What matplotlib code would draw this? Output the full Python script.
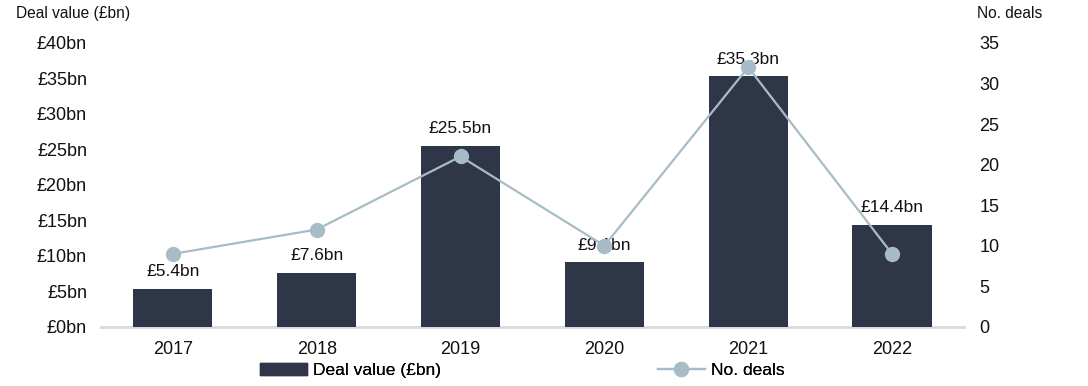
import matplotlib
matplotlib.use("Agg")
import matplotlib.pyplot as plt
from matplotlib.patches import Patch
from matplotlib.lines import Line2D

plt.rcParams["font.family"] = ["Liberation Sans", "DejaVu Sans"]

# --------------------- Data ---------------------
years = ["2017", "2018", "2019", "2020", "2021", "2022"]
deal_value = [5.4, 7.6, 25.5, 9.1, 35.3, 14.4]   # £bn
num_deals = [9, 12, 21, 10, 32, 9]

BAR_COLOR = "#2E3648"
LINE_COLOR = "#A7BCC6"
TEXT_COLOR = "#111111"
FS_TICK = 13
FS_LABEL = 12.5
FS_TITLE = 11.2

fig = plt.figure(figsize=(10.88, 3.86), dpi=100)
ax = fig.add_axes([0.0928, 0.153, 0.7932, 0.736])
ax2 = ax.twinx()

x = list(range(len(years)))
ax.bar(x, deal_value, width=0.55, color=BAR_COLOR, zorder=2)
for xi, v in zip(x, deal_value):
    ax.annotate(f"£{v}bn", (xi, v), xytext=(0, 7), textcoords="offset points",
                ha="center", va="bottom", fontsize=FS_LABEL, color=TEXT_COLOR)

ax2.plot(x, num_deals, color=LINE_COLOR, linewidth=1.6, marker="o",
         markersize=10, zorder=3)

ax.set_xlim(-0.5, len(years) - 0.5)
ax.set_ylim(0, 40)
ax.set_yticks(range(0, 41, 5))
ax.set_yticklabels([f"£{v}bn" for v in range(0, 41, 5)])
ax2.set_ylim(0, 35)
ax2.set_yticks(range(0, 36, 5))

ax.set_xticks(x)
ax.set_xticklabels(years)

for a in (ax, ax2):
    for s in a.spines.values():
        s.set_visible(False)
    a.tick_params(length=0, labelsize=FS_TICK, colors=TEXT_COLOR)
ax.tick_params(axis="y", pad=10)
ax.tick_params(axis="x", pad=10)
ax2.tick_params(axis="y", pad=11)
ax.axhline(0, color="#D9D9D9", linewidth=2, zorder=1, clip_on=False)

fig.text(0.015, 0.965, "Deal value (£bn)", fontsize=FS_TITLE, color=TEXT_COLOR, va="center")
fig.text(0.898, 0.965, "No. deals", fontsize=FS_TITLE, color=TEXT_COLOR, va="center")

# two separate legend entries, placed like the original
bar_handle = Patch(color=BAR_COLOR, label="Deal value (£bn)")
line_handle = Line2D([0], [0], color=LINE_COLOR, linewidth=1.6, marker="o",
                     markersize=10, label="No. deals")
for h, xpos in [(bar_handle, 260 / 1088), (line_handle, 658 / 1088)]:
    lg = fig.legend(handles=[h], loc="center left", bbox_to_anchor=(xpos, 0.041),
                    frameon=False, fontsize=FS_LABEL, borderpad=0, borderaxespad=0,
                    handlelength=2.7, handletextpad=0.35)
    fig.add_artist(lg)

fig.savefig("out.png", dpi=100)
